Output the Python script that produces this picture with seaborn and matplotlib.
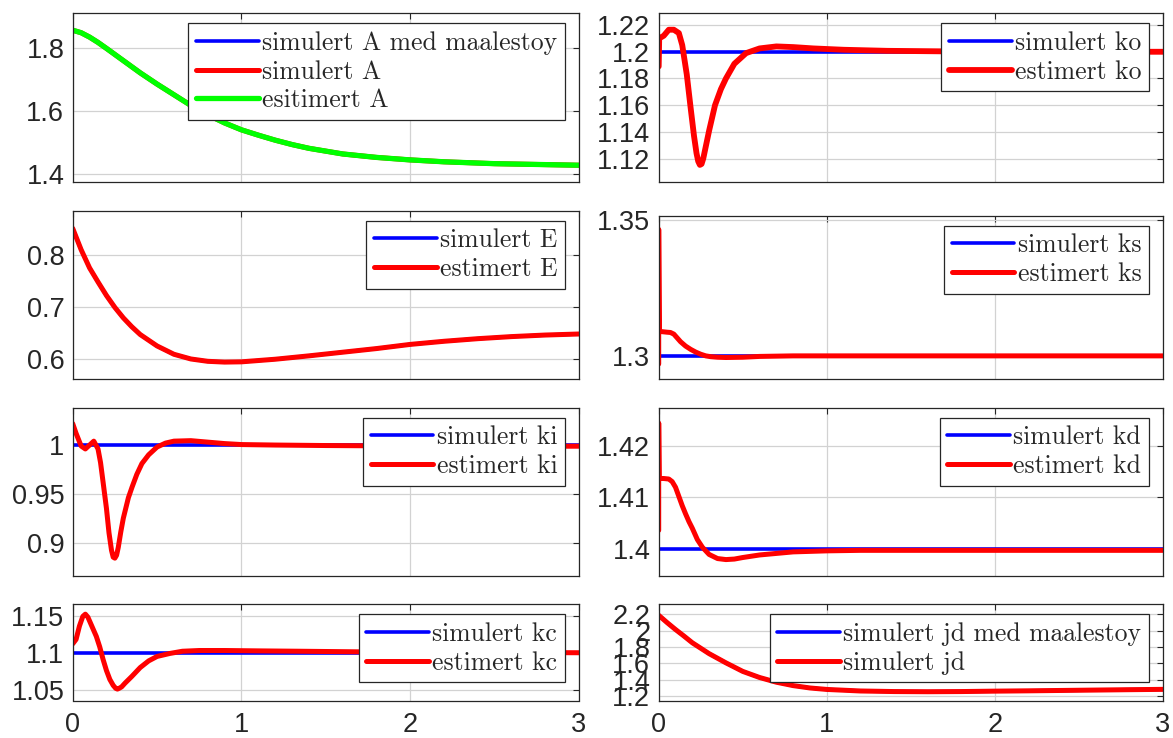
import matplotlib
matplotlib.use("Agg")
import matplotlib.pyplot as plt
import seaborn as sns

# ---------------- data ----------------
# Panel A
t_A = [0, 0.05, 0.1, 0.15, 0.2, 0.3, 0.4, 0.5, 0.6, 0.7, 0.8, 0.9, 1.0, 1.1, 1.2, 1.3,
       1.4, 1.6, 1.8, 2.0, 2.2, 2.5, 2.8, 3.0]
A_sim_noise = [1.858, 1.850, 1.836, 1.819, 1.800, 1.761, 1.722, 1.686, 1.652, 1.618,
               1.588, 1.562, 1.540, 1.523, 1.507, 1.493, 1.481, 1.463, 1.452, 1.444,
               1.438, 1.432, 1.429, 1.427]
A_sim = list(A_sim_noise)
A_est = list(A_sim_noise)

# Panel E
t_E = [0, 0.05, 0.1, 0.15, 0.2, 0.25, 0.3, 0.35, 0.4, 0.5, 0.6, 0.7, 0.8, 0.9, 1.0,
       1.2, 1.4, 1.6, 1.8, 2.0, 2.2, 2.4, 2.6, 2.8, 3.0]
E_sim = [0.851, 0.810, 0.775, 0.748, 0.722, 0.699, 0.679, 0.662, 0.647, 0.625, 0.609,
         0.600, 0.5955, 0.594, 0.5945, 0.5995, 0.606, 0.613, 0.620, 0.628, 0.634,
         0.639, 0.643, 0.646, 0.648]
E_est = list(E_sim)

# Panel ki
t_ki = [0, 0.02, 0.05, 0.075, 0.10, 0.125, 0.15, 0.165, 0.18, 0.20, 0.215, 0.23, 0.24,
        0.25, 0.26, 0.27, 0.285, 0.30, 0.33, 0.352, 0.38, 0.41, 0.45, 0.50, 0.55, 0.6,
        0.7, 0.8, 0.9, 1.0, 1.2, 1.5, 2.0, 2.5, 3.0]
ki_est = [1.022, 1.012, 0.999, 0.996, 1.000, 1.004, 0.996, 0.982, 0.962, 0.935, 0.910,
          0.892, 0.885, 0.884, 0.887, 0.895, 0.911, 0.925, 0.946, 0.957, 0.970, 0.981,
          0.990, 0.998, 1.002, 1.004, 1.0045, 1.003, 1.0015, 1.0005, 1.000, 0.9995,
          0.999, 0.9988, 0.9988]
t_ki_sim = [0, 3]
ki_sim = [1.0, 1.0]

# Panel kc
t_kc = [0, 0.02, 0.04, 0.06, 0.075, 0.09, 0.115, 0.14, 0.16, 0.18, 0.20, 0.22, 0.24,
        0.255, 0.265, 0.275, 0.29, 0.31, 0.35, 0.40, 0.45, 0.50, 0.575, 0.65, 0.75,
        0.9, 1.1, 1.35, 1.8, 2.3, 3.0]
kc_est = [1.112, 1.118, 1.136, 1.149, 1.152, 1.148, 1.135, 1.122, 1.108, 1.091, 1.076,
          1.064, 1.056, 1.052, 1.051, 1.052, 1.054, 1.059, 1.068, 1.080, 1.089, 1.095,
          1.099, 1.102, 1.103, 1.103, 1.1025, 1.102, 1.101, 1.1005, 1.100]
t_kc_sim = [0, 3]
kc_sim = [1.1, 1.1]

# Panel ko
t_ko = [0, 0.003, 0.03, 0.06, 0.09, 0.12, 0.14, 0.167, 0.19, 0.21, 0.225, 0.235, 0.245,
        0.255, 0.265, 0.28, 0.30, 0.335, 0.37, 0.40, 0.45, 0.52, 0.6, 0.7, 0.8, 0.92,
        1.1, 1.36, 1.8, 2.4, 3.0]
ko_est = [1.189, 1.210, 1.212, 1.2165, 1.2165, 1.214, 1.205, 1.183, 1.158, 1.137, 1.124,
          1.118, 1.1153, 1.116, 1.120, 1.129, 1.141, 1.160, 1.172, 1.180, 1.191, 1.199,
          1.2025, 1.204, 1.2035, 1.2025, 1.2015, 1.2007, 1.2002, 1.200, 1.200]
t_ko_sim = [0, 3]
ko_sim = [1.2, 1.2]

# Panel ks
t_ks = [0, 0, 0.004, 0.02, 0.05, 0.07, 0.09, 0.11, 0.13, 0.16, 0.19, 0.22, 0.25, 0.28,
        0.31, 0.35, 0.4, 0.5, 0.6, 0.8, 1.0, 2.0, 3.0]
ks_est = [1.297, 1.3465, 1.309, 1.3089, 1.3087, 1.3086, 1.3080, 1.3066, 1.3052, 1.3036,
          1.3024, 1.3014, 1.3006, 1.3000, 1.2997, 1.2995, 1.2994, 1.2995, 1.2998,
          1.300, 1.300, 1.300, 1.300]
t_ks_sim = [0, 3]
ks_sim = [1.3, 1.3]

# Panel kd
t_kd = [0, 0, 0.003, 0.03, 0.06, 0.08, 0.10, 0.12, 0.14, 0.16, 0.18, 0.2, 0.23, 0.26,
        0.3, 0.35, 0.4, 0.45, 0.5, 0.6, 0.7, 0.8, 1.0, 1.2, 1.5, 2.0, 2.5, 3.0]
kd_est = [1.4036, 1.4245, 1.4137, 1.4137, 1.4136, 1.4131, 1.4120, 1.4102, 1.4084,
          1.4068, 1.4053, 1.4040, 1.4018, 1.4003, 1.3989, 1.3981, 1.3979, 1.3980,
          1.3983, 1.3988, 1.3991, 1.3994, 1.3996, 1.3997, 1.3997, 1.3997, 1.3997,
          1.3997]
t_kd_sim = [0, 3]
kd_sim = [1.4, 1.4]

# Panel jd
t_jd = [0, 0.05, 0.1, 0.15, 0.2, 0.3, 0.4, 0.5, 0.6, 0.7, 0.8, 0.9, 1.0, 1.2, 1.4,
        1.6, 1.8, 2.0, 2.2, 2.5, 2.8, 3.0]
jd_sim_noise = [2.19, 2.10, 2.015, 1.935, 1.852, 1.718, 1.605, 1.50, 1.425, 1.367, 1.325,
                1.296, 1.278, 1.259, 1.252, 1.250, 1.252, 1.257, 1.261, 1.268, 1.275,
                1.279]
jd_sim = list(jd_sim_noise)

# Tick labels
x_ticks = [0, 1, 2, 3]
x_ticklabels = ["0", "1", "2", "3"]
A_yticks = [1.4, 1.6, 1.8];                       A_ylabels = ["1.4", "1.6", "1.8"]
E_yticks = [0.6, 0.7, 0.8];                       E_ylabels = ["0.6", "0.7", "0.8"]
ki_yticks = [0.9, 0.95, 1.0];                     ki_ylabels = ["0.9", "0.95", "1"]
kc_yticks = [1.05, 1.1, 1.15];                    kc_ylabels = ["1.05", "1.1", "1.15"]
ko_yticks = [1.12, 1.14, 1.16, 1.18, 1.2, 1.22]
ko_ylabels = ["1.12", "1.14", "1.16", "1.18", "1.2", "1.22"]
ks_yticks = [1.3, 1.35];                          ks_ylabels = ["1.3", "1.35"]
kd_yticks = [1.4, 1.41, 1.42];                    kd_ylabels = ["1.4", "1.41", "1.42"]
jd_yticks = [1.2, 1.4, 1.6, 1.8, 2.0, 2.2]
jd_ylabels = ["1.2", "1.4", "1.6", "1.8", "2", "2.2"]

# ---------------- style ----------------
sns.set_theme(style="white")
plt.rcParams["font.family"] = ["Liberation Sans", "DejaVu Sans"]
DARK = "#262626"
BLUE, RED, GREEN = (0, 0, 1), (1, 0, 0), (0, 1, 0)
LW_B, LW_R, LW_G = 2.6, 3.6, 3.8

W, H = 1173, 738
fig = plt.figure(figsize=(W / 100, H / 100), dpi=100)

# axes rectangles in pixels: (left, top, right, bottom)
LX, RX = (72.7, 579.0), (658.7, 1163.0)
rects = {
    "A": (LX[0], 13.3, LX[1], 182.0),
    "ko": (RX[0], 13.3, RX[1], 182.0),
    "E": (LX[0], 210.7, LX[1], 379.0),
    "ks": (RX[0], 215.5, RX[1], 379.0),
    "ki": (LX[0], 407.7, LX[1], 576.0),
    "kd": (RX[0], 407.7, RX[1], 576.0),
    "kc": (LX[0], 604.3, LX[1], 700.5),
    "jd": (RX[0], 604.3, RX[1], 700.5),
}
ylims = {
    "A": (1.3735, 1.912), "E": (0.5615, 0.885), "ki": (0.8657, 1.0383),
    "kc": (1.0356, 1.1653), "ko": (1.1025, 1.2288), "ks": (1.2915, 1.3516),
    "kd": (1.3947, 1.4275), "jd": (1.142, 2.325),
}

panels = {
    "A": ([(t_A, A_sim_noise, BLUE, LW_B, "simulert A med maalestoy"),
           (t_A, A_sim, RED, LW_R, "simulert A"),
           (t_A, A_est, GREEN, LW_G, "esitimert A")], A_yticks, A_ylabels),
    "E": ([(t_E, E_sim, BLUE, LW_B, "simulert E"),
           (t_E, E_est, RED, LW_R, "estimert E")], E_yticks, E_ylabels),
    "ki": ([(t_ki_sim, ki_sim, BLUE, LW_B, "simulert ki"),
            (t_ki, ki_est, RED, LW_R, "estimert ki")], ki_yticks, ki_ylabels),
    "kc": ([(t_kc_sim, kc_sim, BLUE, LW_B, "simulert kc"),
            (t_kc, kc_est, RED, LW_R, "estimert kc")], kc_yticks, kc_ylabels),
    "ko": ([(t_ko_sim, ko_sim, BLUE, LW_B, "simulert ko"),
            (t_ko, ko_est, RED, 4.2, "estimert ko")], ko_yticks, ko_ylabels),
    "ks": ([(t_ks_sim, ks_sim, BLUE, LW_B, "simulert ks"),
            (t_ks, ks_est, RED, LW_R, "estimert ks")], ks_yticks, ks_ylabels),
    "kd": ([(t_kd_sim, kd_sim, BLUE, LW_B, "simulert kd"),
            (t_kd, kd_est, RED, LW_R, "estimert kd")], kd_yticks, kd_ylabels),
    "jd": ([(t_jd, jd_sim_noise, BLUE, LW_B, "simulert jd med maalestoy"),
            (t_jd, jd_sim, RED, LW_R, "simulert jd")], jd_yticks, jd_ylabels),
}

bottom_row = {"kc", "jd"}

for key, (series, yt, yl) in panels.items():
    l, t, r, b = rects[key]
    ax = fig.add_axes([l / W, 1 - b / H, (r - l) / W, (b - t) / H])
    for (x, y, c, lw, lab) in series:
        sns.lineplot(x=x, y=y, ax=ax, color=c, lw=lw, label=lab,
                     estimator=None, sort=False, solid_joinstyle="round")
    ax.set_xlim(0, 3)
    ax.set_ylim(*ylims[key])
    ax.set_xticks(x_ticks)
    ax.set_yticks(yt)
    ax.set_yticklabels(yl)
    if key in bottom_row:
        ax.set_xticklabels(x_ticklabels)
    else:
        ax.set_xticklabels([])
    ax.set_xlabel("")
    ax.set_ylabel("")
    ax.grid(True, color="#d2d2d2", lw=0.9)
    ax.set_axisbelow(True)
    for s in ax.spines.values():
        s.set_color(DARK)
        s.set_linewidth(0.9)
    ax.tick_params(axis="both", direction="in", length=4, width=0.8, colors=DARK,
                   top=True, right=True, labelsize=19.5)
    ax.tick_params(axis="y", pad=6)
    ax.tick_params(axis="x", pad=8)
    aw, ah = r - l, b - t
    leg = ax.legend(loc="upper right", bbox_to_anchor=(1 - 14 / aw, 1 - 10 / ah),
                    borderaxespad=0, prop={"family": "cmr10", "size": 18.5},
                    handlelength=2.45, handletextpad=0.12, borderpad=0.3,
                    labelspacing=0.2, fancybox=False, framealpha=1,
                    edgecolor=DARK)
    leg.get_frame().set_linewidth(0.9)

fig.savefig("out.png", dpi=100)
